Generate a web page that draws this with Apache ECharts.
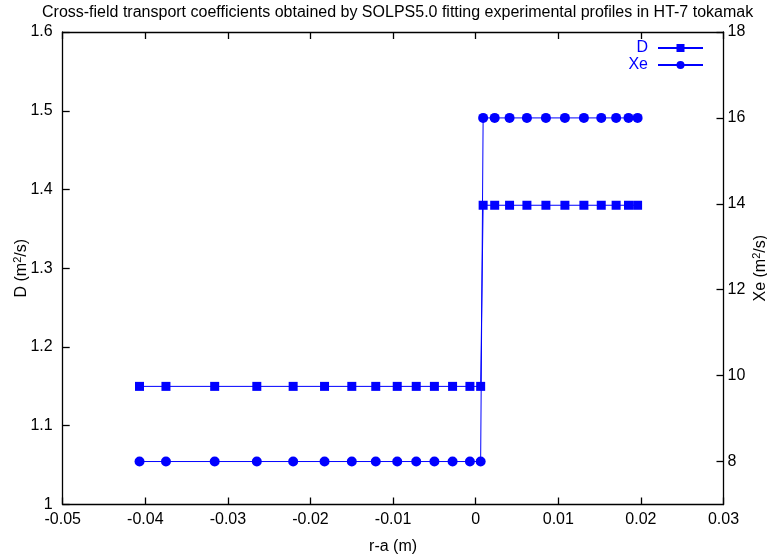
<!DOCTYPE html>
<html><head><meta charset="utf-8">
<script src="https://cdn.jsdelivr.net/npm/echarts@6/dist/echarts.min.js"></script>
<style>html,body{margin:0;padding:0;background:#fff}#c{width:767px;height:558px}</style>
</head><body><div id="c"></div>
<script>
const titleText = 'Cross-field transport coefficients obtained by SOLPS5.0 fitting experimental profiles in HT-7 tokamak';
const rPos = [-0.0407, -0.0375, -0.0316, -0.0265, -0.0221, -0.0183, -0.0150, -0.0121, -0.0095, -0.0072, -0.0050, -0.0028, -0.0007, 0.0006,
              0.0009, 0.0023, 0.0041, 0.0062, 0.0085, 0.0108, 0.0131, 0.0152, 0.0170, 0.0185, 0.0196];
const dVals = [1.15, 1.15, 1.15, 1.15, 1.15, 1.15, 1.15, 1.15, 1.15, 1.15, 1.15, 1.15, 1.15, 1.15,
               1.38, 1.38, 1.38, 1.38, 1.38, 1.38, 1.38, 1.38, 1.38, 1.38, 1.38];
const xeVals = [8, 8, 8, 8, 8, 8, 8, 8, 8, 8, 8, 8, 8, 8,
                16, 16, 16, 16, 16, 16, 16, 16, 16, 16, 16];
const xeTicks = [8, 10, 12, 14, 16, 18];

const FONT = 'Liberation Sans';
const FS = 16;
const chart = echarts.init(document.getElementById('c'), null, {renderer: 'canvas'});
function axLine() { return {show: true, onZero: false, lineStyle: {color: '#000', width: 1.3}}; }
function axTick(extra) { return Object.assign({show: true, inside: true, length: 7, lineStyle: {color: '#000', width: 1.3}}, extra || {}); }
function axLabel(extra) { return Object.assign({color: '#000', fontFamily: FONT, fontSize: FS}, extra || {}); }
function supRich() { return {s: {fontFamily: FONT, fontSize: 11, color: '#000', verticalAlign: 'top', padding: [0, 0, 7, 0]}}; }
chart.setOption({
  animation: false,
  title: {text: titleText, left: 42, top: 5, padding: 0,
    textStyle: {fontFamily: FONT, fontSize: 16, fontWeight: 'normal', color: '#000'}},
  grid: {left: 62.7, right: 43.5, top: 32, bottom: 53.5, containLabel: false,
    outerBounds: {left: -200, right: -200, top: -200, bottom: -200}},
  legend: {
    orient: 'vertical', right: 63, top: 40, align: 'right', itemGap: 1, padding: 0,
    itemWidth: 45, itemHeight: 10,
    textStyle: {color: '#0000ff', fontFamily: FONT, fontSize: FS, padding: [0, 5, 0, 0]},
    data: ['D', 'Xe']
  },
  xAxis: [
    {type: 'value', min: -0.05, max: 0.03, interval: 0.01,
      axisLine: axLine(), axisTick: axTick(), splitLine: {show: false},
      name: 'r-a (m)', nameLocation: 'middle', nameGap: 34, nameMoveOverlap: false,
      nameTextStyle: {fontFamily: FONT, fontSize: FS, color: '#000'},
      axisLabel: axLabel({margin: 7})},
    {type: 'value', position: 'top', min: -0.05, max: 0.03, interval: 0.01,
      axisLine: axLine(), axisTick: axTick(), splitLine: {show: false},
      axisLabel: {show: false}}
  ],
  yAxis: [
    {type: 'value', min: 1, max: 1.6, interval: 0.1,
      axisLine: axLine(), axisTick: axTick(), splitLine: {show: false},
      name: 'D (m{s|2}/s)', nameLocation: 'middle', nameGap: 32, nameRotate: 90, nameMoveOverlap: false,
      nameTextStyle: {fontFamily: FONT, fontSize: FS, color: '#000', rich: supRich()},
      axisLabel: axLabel({margin: 10})},
    {type: 'value', position: 'right', min: 7, max: 18,
      axisLine: axLine(), splitLine: {show: false},
      name: 'Xe (m{s|2}/s)', nameLocation: 'middle', nameGap: 28, nameRotate: 90, nameMoveOverlap: false,
      nameTextStyle: {fontFamily: FONT, fontSize: FS, color: '#000', rich: supRich()},
      axisTick: axTick({customValues: xeTicks}),
      axisLabel: axLabel({margin: 4, customValues: xeTicks})}
  ],
  series: [
    {name: 'D', type: 'line', xAxisIndex: 0, yAxisIndex: 0,
     data: rPos.map((x, i) => [x, dVals[i]]),
     symbol: 'rect', symbolSize: 9, showSymbol: true,
     itemStyle: {color: '#0000ff'}, lineStyle: {color: '#0000ff', width: 1}},
    {name: 'Xe', type: 'line', xAxisIndex: 0, yAxisIndex: 1,
     data: rPos.map((x, i) => [x, xeVals[i]]),
     symbol: 'circle', symbolSize: 10, showSymbol: true,
     itemStyle: {color: '#0000ff'}, lineStyle: {color: '#0000ff', width: 1}}
  ]
});
</script></body></html>
